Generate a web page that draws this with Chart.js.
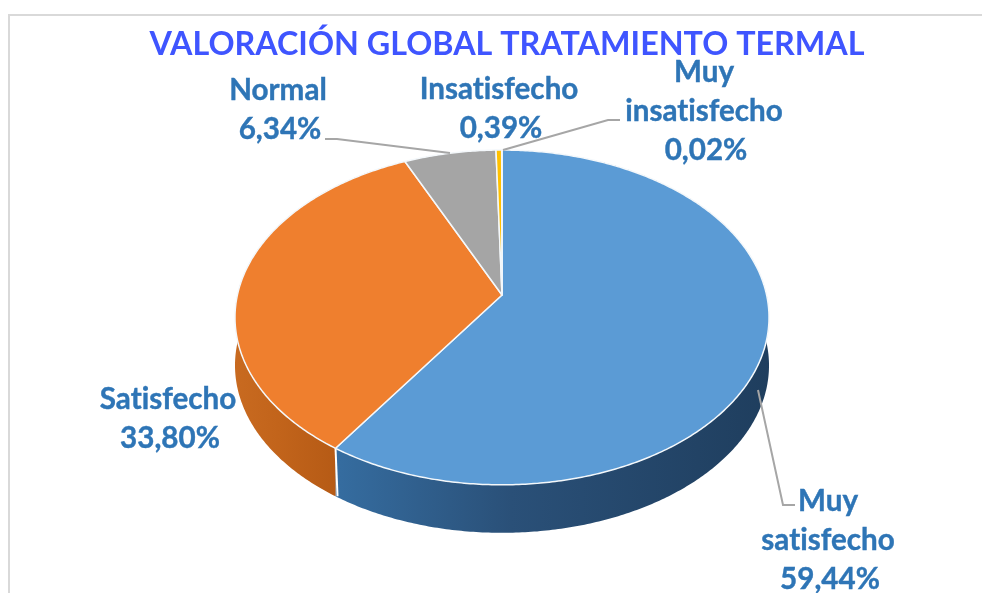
<!DOCTYPE html>
<html>
    <head>
        <meta charset="utf-8">
        <title>Valoración global tratamiento termal</title>
        <script src="https://cdn.jsdelivr.net/npm/chart.js@4"></script>
        <style>
            html, body { margin: 0; padding: 0; background: #ffffff; overflow: hidden; }
            #wykres { display: block; }
        </style>
    </head>

    <body>
        <canvas id="wykres" width="982" height="593"></canvas>

        <script>
            var titulo = "VALORACIÓN GLOBAL TRATAMIENTO TERMAL";
            var categorias = ["Muy satisfecho", "Satisfecho", "Normal", "Insatisfecho", "Muy insatisfecho"];
            var valores = [59.44, 33.80, 6.34, 0.39, 0.02];
            var coloresCara = ["#5b9bd5", "#ef7f2e", "#a5a5a5", "#ffc000", "#4472c4"];
            var coloresLado = [
                ["#356c9f", "#2a5078", "#1f3e5e"],
                ["#c86a20", "#c2641b", "#b55a15"],
                ["#7c7c7c", "#7c7c7c", "#7c7c7c"],
                ["#bf9000", "#bf9000", "#bf9000"],
                ["#2f5597", "#2f5597", "#2f5597"]
            ];

            // pie seen in perspective: centre, radii, tilt and wall height
            var vista = { cx: 502, cy: 295, rx: 264.6, ry: 164.4, p: 0.134, alto: 48 };

            // label centres (x, y of first line) and leader lines
            var etiquetas = [
                { x: 828, y: 501, linea: [[758, 390], [783, 505], [795, 505]] },
                { x: 168, y: 399 },
                { x: 278, y: 90, linea: [[450, 153], [337, 139], [325, 139]] },
                { x: 499, y: 89 },
                { x: 704, y: 72, linea: [[503, 150], [608, 120], [620, 120]] }
            ];

            function proyectar(a) {
                var u = Math.cos(a), v = Math.sin(a), w = 1 - vista.p * v;
                return [vista.cx + vista.rx * u / w, vista.cy + vista.ry * v / w];
            }

            function borde(ctx, a0, a1, dy, inverso) {
                var n = Math.max(2, Math.ceil((a1 - a0) / 0.01));
                for (let i = 0; i <= n; ++i) {
                    var t = inverso ? 1 - i / n : i / n;
                    var q = proyectar(a0 + (a1 - a0) * t);
                    ctx.lineTo(q[0], q[1] + dy);
                }
            }

            var pastel3d = {
                id: "pastel3d",
                beforeDraw(chart) {
                    var ctx = chart.ctx;
                    ctx.save();
                    ctx.strokeStyle = "#d9d9d9";
                    ctx.lineWidth = 2;
                    ctx.beginPath();
                    ctx.moveTo(9, 593);
                    ctx.lineTo(9, 15);
                    ctx.lineTo(982, 15);
                    ctx.stroke();
                    ctx.restore();
                },
                beforeDatasetDraw(chart) {
                    var ctx = chart.ctx;
                    var arcos = chart.getDatasetMeta(0).data;
                    ctx.save();

                    // walls first, the top faces cover what faces away
                    arcos.forEach(function (arco, i) {
                        var g = i === 1 ? ctx.createLinearGradient(236, 0, 340, 0)
                                        : ctx.createLinearGradient(340, 0, 768, 0);
                        g.addColorStop(0, coloresLado[i][0]);
                        g.addColorStop(0.4, coloresLado[i][1]);
                        g.addColorStop(1, coloresLado[i][2]);
                        ctx.beginPath();
                        borde(ctx, arco.startAngle, arco.endAngle, 0, false);
                        borde(ctx, arco.startAngle, arco.endAngle, vista.alto, true);
                        ctx.closePath();
                        ctx.fillStyle = g;
                        ctx.fill();
                    });

                    // white seam where blue and orange meet on the wall
                    var q = proyectar(arcos[0].endAngle);
                    ctx.strokeStyle = "#ffffff";
                    ctx.lineWidth = 2;
                    ctx.beginPath();
                    ctx.moveTo(q[0], q[1]);
                    ctx.lineTo(q[0] + 2, q[1] + vista.alto);
                    ctx.stroke();

                    arcos.forEach(function (arco, i) {
                        ctx.beginPath();
                        ctx.moveTo(vista.cx, vista.cy);
                        borde(ctx, arco.startAngle, arco.endAngle, 0, false);
                        ctx.closePath();
                        ctx.fillStyle = coloresCara[i];
                        ctx.strokeStyle = "#f4f8fb";
                        ctx.lineWidth = 1.5;
                        ctx.lineJoin = "round";
                        ctx.fill();
                        ctx.stroke();
                    });
                    ctx.restore();
                    return false;
                },
                afterDatasetsDraw(chart) {
                    var ctx = chart.ctx;
                    ctx.save();
                    ctx.font = "700 29.6px Lato";
                    ctx.letterSpacing = "0.01px"; // keeps "ti" from turning into a ligature
                    ctx.textAlign = "center";
                    ctx.textBaseline = "middle";
                    etiquetas.forEach(function (et, i) {
                        if (et.linea) {
                            ctx.strokeStyle = "#a6a6a6";
                            ctx.lineWidth = 2;
                            ctx.beginPath();
                            et.linea.forEach(function (p) { ctx.lineTo(p[0], p[1]); });
                            ctx.stroke();
                        }
                        var lineas = categorias[i].split(" ");
                        var pct = valores[i].toFixed(2).replace(".", ",") + "%";
                        ctx.fillStyle = "#2e75b6";
                        ctx.strokeStyle = "#2e75b6";
                        ctx.lineWidth = 0.4;
                        lineas.forEach(function (texto, j) {
                            ctx.fillText(texto, et.x, et.y + j * 39);
                            ctx.strokeText(texto, et.x, et.y + j * 39);
                        });
                        ctx.fillText(pct, et.x + 2, et.y + lineas.length * 39);
                        ctx.strokeText(pct, et.x + 2, et.y + lineas.length * 39);
                    });
                    ctx.restore();
                }
            };

            var wykres = new Chart(document.getElementById("wykres").getContext("2d"), {
                type: "pie",
                data: {
                    labels: categorias,
                    datasets: [{ data: valores, backgroundColor: coloresCara }]
                },
                options: {
                    responsive: false,
                    animation: false,
                    layout: { padding: { left: 32 } },
                    plugins: {
                        legend: { display: false },
                        tooltip: { enabled: false },
                        title: {
                            display: true,
                            text: titulo,
                            color: "#3f55ff",
                            font: { family: "Lato", size: 32.3, weight: "700" },
                            padding: { top: 25, bottom: 10 }
                        }
                    }
                },
                plugins: [pastel3d]
            });
        </script>
    </body>
</html>
